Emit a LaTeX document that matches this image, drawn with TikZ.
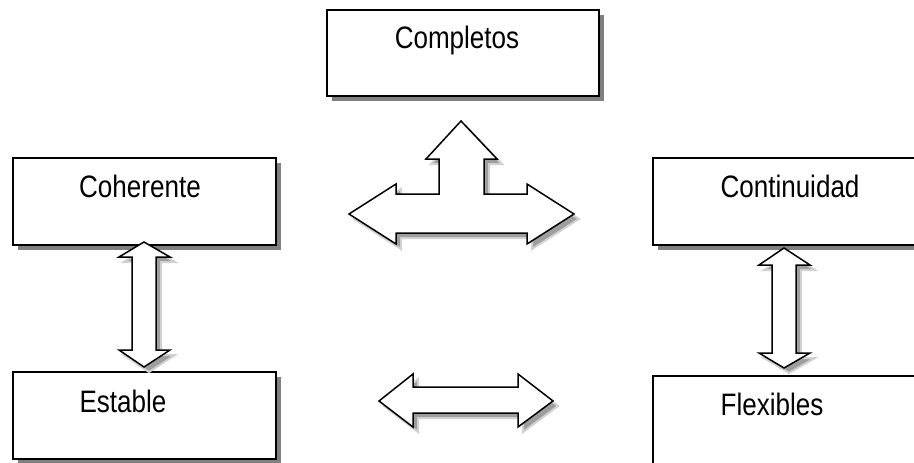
\documentclass[tikz,border=0pt]{standalone}
\usepackage{fontspec}
\setmainfont{Liberation Sans}[FakeStretch=0.84]
\usetikzlibrary{shadows}
\tikzset{
  card/.style={draw=black, line width=1.6pt, fill=white, anchor=north west,
    drop shadow={shadow xshift=5pt, shadow yshift=-5pt, fill=black!50, opacity=1}},
  cardtext/.style={anchor=base, font=\fontsize{31}{36}\selectfont, inner sep=0pt},
  blockarrow/.style={draw=black, line width=1.5pt, fill=white, line join=miter},
  arrowshadow/.style={fill=black!38, draw=black!18, line width=2pt, shift={(5,5)}}
}
\begin{document}
\begin{tikzpicture}[x=1pt, y=-1pt]
  \useasboundingbox (0,0) rectangle (914,463);
  \clip (0,0) rectangle (914,463);

  % boxes
  \node[card, minimum width=272pt, minimum height=86pt] (bcomp) at (326,9) {};
  \node[card, minimum width=263pt, minimum height=87pt] (bcoh) at (12,157) {};
  \node[card, minimum width=280pt, minimum height=87pt] (bcont) at (652,157) {};
  \node[card, minimum width=263pt, minimum height=87pt] (best) at (12,371) {};
  \node[card, minimum width=280pt, minimum height=90pt] (bflex) at (652,375) {};

  % labels
  \node[cardtext] (tcomp) at (457,48) {Completos};
  \node[cardtext] (tcoh) at (140,197) {Coherente};
  \node[cardtext] (tcont) at (790,197) {Continuidad};
  \node[cardtext] (test) at (123,412) {Estable};
  \node[cardtext] (tflex) at (772,415) {Flexibles};

  % three-way block arrow
  \def\tarrow{(461,121) -- (497,159) -- (484,159) -- (484,194) -- (527,194) -- (527,184)
    -- (574,214) -- (527,244) -- (527,233) -- (396,233) -- (396,244) -- (349,214)
    -- (396,184) -- (396,194) -- (439,194) -- (439,159) -- (426,159) -- cycle}
  \path[arrowshadow] \tarrow;
  \path[blockarrow] \tarrow;

  % vertical double arrow, left column
  \def\varrowL{(144,242) -- (170,257) -- (156,257) -- (156,350) -- (170,350) -- (144,367)
    -- (119,350) -- (132,350) -- (132,257) -- (119,257) -- cycle}
  \path[arrowshadow] \varrowL;
  \path[blockarrow] \varrowL;

  % vertical double arrow, right column
  \def\varrowR{(784,248) -- (810,265) -- (796,265) -- (796,353) -- (810,353) -- (784,368)
    -- (759,353) -- (772,353) -- (772,265) -- (759,265) -- cycle}
  \path[arrowshadow] \varrowR;
  \path[blockarrow] \varrowR;

  % horizontal double arrow, bottom row
  \def\harrow{(379,401) -- (413,374) -- (413,387) -- (518,387) -- (518,374) -- (553,401)
    -- (518,427) -- (518,413) -- (413,413) -- (413,427) -- cycle}
  \path[arrowshadow] \harrow;
  \path[blockarrow] \harrow;
\end{tikzpicture}
\end{document}
